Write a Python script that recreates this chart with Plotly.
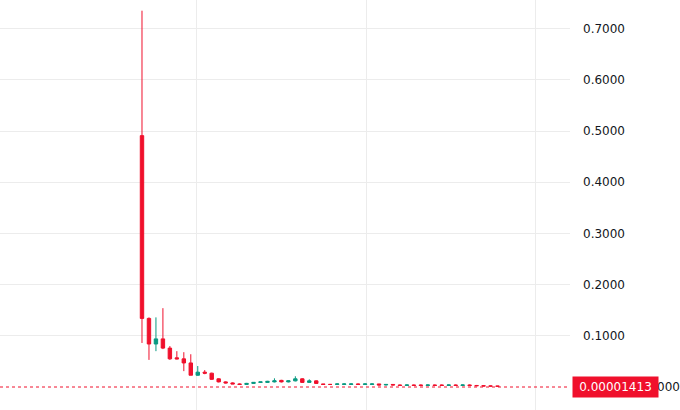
import plotly.graph_objects as go

# candle index (one per period)
idx = list(range(52))
opens = [0.491, 0.134, 0.084, 0.094, 0.076, 0.057, 0.055, 0.047, 0.023, 0.029,
         0.027, 0.016, 0.010, 0.008, 0.006, 0.005, 0.007, 0.009, 0.009, 0.010,
         0.013, 0.010, 0.012, 0.016, 0.009, 0.012, 0.006, 0.005, 0.005, 0.005,
         0.005, 0.006, 0.005, 0.005, 0.006, 0.004, 0.005, 0.004, 0.003, 0.004,
         0.004, 0.003, 0.004, 0.004, 0.003, 0.004, 0.003, 0.004, 0.003, 0.0025,
         0.002, 0.0018]
highs = [0.735, 0.136, 0.136, 0.154, 0.080, 0.070, 0.068, 0.064, 0.041, 0.033,
         0.028, 0.017, 0.011, 0.009, 0.007, 0.008, 0.009, 0.010, 0.012, 0.017,
         0.014, 0.013, 0.021, 0.017, 0.015, 0.013, 0.006, 0.006, 0.007, 0.007,
         0.007, 0.007, 0.007, 0.007, 0.006, 0.005, 0.005, 0.005, 0.005, 0.005,
         0.005, 0.005, 0.005, 0.005, 0.005, 0.005, 0.005, 0.005, 0.004, 0.003,
         0.0025, 0.002]
lows = [0.086, 0.053, 0.070, 0.074, 0.053, 0.054, 0.031, 0.023, 0.022, 0.025,
        0.014, 0.009, 0.007, 0.006, 0.004, 0.004, 0.006, 0.008, 0.008, 0.009,
        0.009, 0.009, 0.011, 0.008, 0.008, 0.006, 0.004, 0.004, 0.004, 0.004,
        0.004, 0.004, 0.004, 0.004, 0.003, 0.003, 0.003, 0.003, 0.003, 0.002,
        0.002, 0.002, 0.002, 0.002, 0.002, 0.002, 0.002, 0.002, 0.002, 0.0015,
        0.0012, 0.001]
closes = [0.134, 0.084, 0.094, 0.076, 0.055, 0.055, 0.047, 0.023, 0.029, 0.027,
          0.015, 0.010, 0.008, 0.006, 0.005, 0.007, 0.009, 0.010, 0.011, 0.012,
          0.010, 0.012, 0.016, 0.009, 0.012, 0.007, 0.005, 0.005, 0.006, 0.006,
          0.006, 0.005, 0.006, 0.006, 0.004, 0.005, 0.004, 0.003, 0.004, 0.003,
          0.003, 0.004, 0.003, 0.003, 0.004, 0.003, 0.004, 0.003, 0.0025, 0.002,
          0.0018, 0.0015]

last_price = 0.00001413
last_label = "0.00001413"
y_ticks = [0.1, 0.2, 0.3, 0.4, 0.5, 0.6, 0.7]
x_grid = [7.89, 32.14, 56.4]

RED = "#f0102c"
GREEN = "#089981"
FONT = "DejaVu Sans"

fig = go.Figure()
fig.add_trace(go.Candlestick(
    x=idx, open=opens, high=highs, low=lows, close=closes,
    increasing=dict(line=dict(color=GREEN, width=1), fillcolor=GREEN),
    decreasing=dict(line=dict(color=RED, width=1), fillcolor=RED),
    whiskerwidth=0, showlegend=False, hoverinfo="skip",
))

fig.add_shape(type="line", xref="paper", x0=0, x1=1, yref="y",
              y0=last_price, y1=last_price,
              line=dict(color=RED, width=1, dash="dot"))

fig.add_annotation(xref="paper", x=655 / 570, yref="y", y=last_price,
                   text="000", showarrow=False, xanchor="left", yanchor="middle",
                   font=dict(family=FONT, size=12, color="#131722"))
fig.add_annotation(xref="paper", x=572 / 570, yref="y", y=last_price,
                   text=last_label, showarrow=False, xanchor="left", yanchor="middle",
                   bgcolor=RED, width=83, height=18, borderpad=1,
                   font=dict(family=FONT, size=12, color="white"))

fig.update_layout(
    width=680, height=410,
    margin=dict(l=0, r=110, t=0, b=0),
    paper_bgcolor="white", plot_bgcolor="white",
    font=dict(family=FONT, size=12, color="#131722"),
    xaxis=dict(range=[-20.37, 61.4], tickvals=x_grid, showticklabels=False,
               showgrid=True, gridcolor="#ececec", gridwidth=1,
               zeroline=False, rangeslider=dict(visible=False), ticks=""),
    yaxis=dict(range=[-0.0449, 0.7559], side="right", tickvals=y_ticks,
               tickformat=".4f", showgrid=True, gridcolor="#ececec",
               zeroline=False, ticks="", ticklabelstandoff=12,
               tickfont=dict(family=FONT, size=12, color="#131722")),
)

fig.write_html("out.html", config={"displayModeBar": False},
               post_script="document.body.style.margin='0';document.body.style.overflow='hidden';")
